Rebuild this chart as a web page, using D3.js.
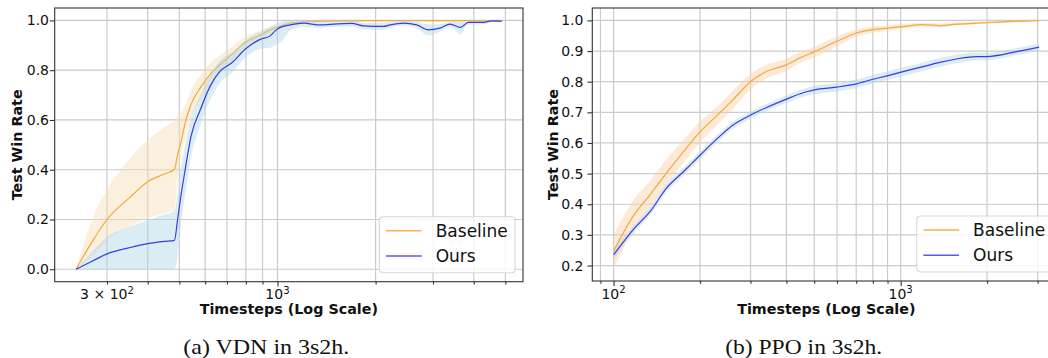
<!DOCTYPE html>
<html><head><meta charset="utf-8">
<script src="https://cdn.jsdelivr.net/npm/d3@7"></script>
<style>body{margin:0;background:#fff}svg{display:block}</style>
</head><body><svg id="c" width="1048" height="358"></svg>
<script>
// ---------- data: (a) VDN in 3s2h ----------
const vdnSteps    = [241, 270, 300, 350, 400, 450, 483, 494, 505, 521, 543, 580, 622, 667, 725, 796, 885, 950, 984, 1019, 1094, 1201, 1352, 1521, 1690, 1834, 2114, 2215, 2433, 2673, 2904, 3149, 3385, 3639, 3851, 4283, 4540, 4873];
const vdnBaseMean = [0, 0.11, 0.2, 0.285, 0.352, 0.383, 0.402, 0.46, 0.507, 0.588, 0.662, 0.729, 0.783, 0.823, 0.864, 0.911, 0.941, 0.962, 0.97, 0.976, 0.989, 0.994, 0.997, 0.998, 0.998, 0.999, 0.999, 0.999, 0.999, 0.999, 0.999, 0.999, 0.999, 0.999, 0.999, 0.999, 0.998, 0.997];
const vdnBaseLo   = [0, 0.05, 0.116, 0.17, 0.204, 0.225, 0.237, 0.36, 0.45, 0.52, 0.61, 0.68, 0.74, 0.79, 0.835, 0.885, 0.925, 0.95, 0.96, 0.968, 0.982, 0.99, 0.994, 0.995, 0.995, 0.996, 0.996, 0.996, 0.996, 0.996, 0.996, 0.996, 0.996, 0.996, 0.996, 0.996, 0.993, 0.988];
const vdnBaseHi   = [0, 0.2, 0.32, 0.44, 0.52, 0.57, 0.6, 0.62, 0.63, 0.66, 0.72, 0.78, 0.83, 0.86, 0.895, 0.935, 0.96, 0.975, 0.98, 0.985, 0.995, 0.998, 1, 1, 1, 1, 1, 1, 1, 1, 1, 1, 1, 1, 1, 1, 1, 1];
const vdnOursMean = [0, 0.032, 0.062, 0.086, 0.103, 0.112, 0.116, 0.2, 0.29, 0.4, 0.534, 0.641, 0.736, 0.796, 0.83, 0.884, 0.924, 0.938, 0.958, 0.972, 0.982, 0.989, 0.982, 0.986, 0.988, 0.978, 0.976, 0.982, 0.989, 0.982, 0.962, 0.969, 0.985, 0.972, 0.992, 0.992, 0.998, 0.997];
const vdnOursLo   = [0, 0, 0, 0, 0, 0, 0, 0.05, 0.17, 0.3, 0.45, 0.58, 0.68, 0.75, 0.79, 0.85, 0.885, 0.89, 0.9, 0.91, 0.96, 0.975, 0.97, 0.975, 0.975, 0.965, 0.962, 0.97, 0.98, 0.97, 0.94, 0.955, 0.975, 0.945, 0.985, 0.985, 0.995, 0.994];
const vdnOursHi   = [0, 0.07, 0.13, 0.17, 0.197, 0.22, 0.234, 0.3, 0.4, 0.5, 0.61, 0.7, 0.78, 0.84, 0.87, 0.92, 0.955, 0.975, 0.985, 0.995, 1, 1, 0.995, 0.997, 1, 0.99, 0.99, 0.995, 0.998, 0.995, 0.985, 0.985, 0.995, 0.995, 0.998, 0.999, 1, 1];
const vdnYTicks = [0, 0.2, 0.4, 0.6, 0.8, 1.0];
const vdnXTickValues = [300, 1000];
const vdnXTickLabels = ["3 × 10^2", "10^3"];

// ---------- data: (b) PPO in 3s2h ----------
const ppoSteps    = [100, 116.5, 135, 152.3, 175, 200, 230, 260, 300, 340, 400, 444, 501, 597, 701, 801, 904, 1011, 1196, 1368, 1563, 1837, 1991, 2533, 3036];
const ppoBaseMean = [0.247, 0.358, 0.435, 0.5, 0.571, 0.636, 0.691, 0.74, 0.8, 0.833, 0.855, 0.877, 0.898, 0.931, 0.959, 0.97, 0.975, 0.98, 0.986, 0.983, 0.988, 0.991, 0.993, 0.997, 0.999];
const ppoBaseLo   = [0.19, 0.31, 0.39, 0.46, 0.535, 0.6, 0.66, 0.71, 0.775, 0.81, 0.835, 0.86, 0.88, 0.915, 0.947, 0.96, 0.967, 0.972, 0.98, 0.977, 0.983, 0.987, 0.99, 0.995, 0.997];
const ppoBaseHi   = [0.3, 0.41, 0.48, 0.545, 0.61, 0.67, 0.72, 0.77, 0.825, 0.855, 0.875, 0.895, 0.915, 0.947, 0.97, 0.98, 0.983, 0.988, 0.992, 0.989, 0.993, 0.995, 0.996, 0.999, 1.0];
const ppoOursMean = [0.235, 0.315, 0.38, 0.451, 0.506, 0.56, 0.615, 0.658, 0.691, 0.715, 0.743, 0.76, 0.773, 0.782, 0.793, 0.808, 0.82, 0.832, 0.849, 0.863, 0.874, 0.882, 0.882, 0.898, 0.913];
const ppoOursLo   = [0.22, 0.302, 0.368, 0.439, 0.494, 0.548, 0.603, 0.646, 0.68, 0.703, 0.731, 0.747, 0.759, 0.768, 0.779, 0.794, 0.806, 0.818, 0.835, 0.849, 0.86, 0.869, 0.87, 0.886, 0.901];
const ppoOursHi   = [0.25, 0.328, 0.392, 0.463, 0.518, 0.572, 0.627, 0.67, 0.702, 0.727, 0.755, 0.773, 0.787, 0.796, 0.807, 0.822, 0.834, 0.846, 0.863, 0.877, 0.888, 0.895, 0.894, 0.91, 0.925];
const ppoYTicks = [0.2, 0.3, 0.4, 0.5, 0.6, 0.7, 0.8, 0.9, 1.0];
const ppoXTickValues = [100, 1000];
const ppoXTickLabels = ["10^2", "10^3"];

const seriesNames = ["Baseline", "Ours"];
const captions = ["(a) VDN in 3s2h.", "(b) PPO in 3s2h."];

// ---------- drawing ----------
const FONT = "DejaVu Sans";
const svg = d3.select("#c");
svg.append("rect").attr("width", 1048).attr("height", 358).attr("fill", "#fff");
const defs = svg.append("defs");

function setMath(textSel, label) {
  textSel.text(null);
  const [base, sup] = label.split("^");
  textSel.append("tspan").attr("xml:space", "preserve").text(base);
  if (sup !== undefined) {
    textSel.append("tspan").attr("font-size", "0.72em").attr("dy", "-0.5em").text(sup);
  }
}

function panel(o) {
  const g = svg.append("g");
  const allY = [].concat(o.baseLo, o.baseHi, o.oursLo, o.oursHi, o.baseMean, o.oursMean);
  const yMin = d3.min(allY), yMax = d3.max(allY), yPad = (yMax - yMin) * 0.05;
  const lmin = Math.log10(d3.min(o.steps)), lmax = Math.log10(d3.max(o.steps));
  const lpad = (lmax - lmin) * 0.05;
  const x = d3.scaleLog().domain([10 ** (lmin - lpad), 10 ** (lmax + lpad)]).range([o.left, o.right]);
  const y = d3.scaleLinear().domain([yMin - yPad, yMax + yPad]).range([o.bottom, o.top]);

  const cid = "clip" + o.name;
  defs.append("clipPath").attr("id", cid).append("rect")
    .attr("x", o.left).attr("y", o.top).attr("width", o.right - o.left).attr("height", o.bottom - o.top);

  // grid
  const gridX = x.ticks();
  const grid = g.append("g").attr("stroke", "#cbcbcb").attr("stroke-width", 1.2);
  grid.selectAll("line.gx").data(gridX).join("line").attr("class", "gx")
    .attr("x1", d => x(d)).attr("x2", d => x(d)).attr("y1", o.top).attr("y2", o.bottom);
  grid.selectAll("line.gy").data(o.yTicks).join("line").attr("class", "gy")
    .attr("x1", o.left).attr("x2", o.right).attr("y1", d => y(d)).attr("y2", d => y(d));

  // data
  const dg = g.append("g").attr("clip-path", `url(#${cid})`);
  const crv = d3.curveMonotoneX;
  const area = (lo, hi) => d3.area().curve(crv).x((d, i) => x(o.steps[i])).y0((d, i) => y(lo[i])).y1((d, i) => y(hi[i]))(o.steps);
  const line = (m) => d3.line().curve(crv).x((d, i) => x(o.steps[i])).y((d, i) => y(m[i]))(o.steps);
  dg.append("path").attr("d", area(o.baseLo, o.baseHi)).attr("fill", o.baseBand).attr("fill-opacity", o.baseBandOp);
  dg.append("path").attr("d", line(o.baseMean)).attr("fill", "none").attr("stroke", "#f2a93b").attr("stroke-width", 1.2);
  dg.append("path").attr("d", area(o.oursLo, o.oursHi)).attr("fill", "#add8e6").attr("fill-opacity", 0.45);
  dg.append("path").attr("d", line(o.oursMean)).attr("fill", "none").attr("stroke", "#3b3bdf").attr("stroke-width", 1.2);

  // axes ticks
  const majors = gridX.filter(d => Math.abs(Math.log10(d) - Math.round(Math.log10(d))) < 1e-9);
  const minors = gridX.filter(d => !majors.includes(d));
  const xMinor = g.append("g").attr("transform", `translate(0,${o.bottom})`)
    .call(d3.axisBottom(x).tickValues(minors).tickSize(2.8).tickFormat(""));
  const xMajor = g.append("g").attr("transform", `translate(0,${o.bottom})`)
    .call(d3.axisBottom(x).tickValues(majors).tickSize(4.9).tickFormat(""));
  [xMinor, xMajor].forEach(a => { a.select(".domain").remove(); a.selectAll("line").attr("stroke", "#333").attr("stroke-width", 1.1); });

  const xl = g.append("g");
  o.xTickValues.forEach((v, i) => {
    const t = xl.append("text").attr("x", x(v)).attr("y", o.bottom + 17.5)
      .attr("text-anchor", "middle").attr("font-family", FONT).attr("font-size", 14).attr("fill", "#111");
    setMath(t, o.xTickLabels[i]);
  });

  const yAx = g.append("g").attr("transform", `translate(${o.left},0)`)
    .call(d3.axisLeft(y).tickValues(o.yTicks).tickSize(4.9).tickPadding(o.yTickPad).tickFormat(d3.format(".1f")));
  yAx.select(".domain").remove();
  yAx.selectAll("line").attr("stroke", "#333").attr("stroke-width", 1.1);
  yAx.selectAll("text").attr("font-family", FONT).attr("font-size", 14).attr("fill", "#111");

  // spines
  g.append("rect").attr("x", o.left).attr("y", o.top).attr("width", o.right - o.left).attr("height", o.bottom - o.top)
    .attr("fill", "none").attr("stroke", "#333").attr("stroke-width", 1.1);

  // labels
  g.append("text").attr("x", (o.left + o.right) / 2).attr("y", o.bottom + 32.5).attr("text-anchor", "middle")
    .attr("font-family", FONT).attr("font-weight", "bold").attr("font-size", 14.3).attr("fill", "#111")
    .text("Timesteps (Log Scale)");
  g.append("text").attr("transform", `translate(${o.ylabelX},${(o.top + o.bottom) / 2}) rotate(-90)`)
    .attr("text-anchor", "middle").attr("font-family", FONT).attr("font-weight", "bold").attr("font-size", 14.3)
    .attr("fill", "#111").text("Test Win Rate");

  // legend
  const lw = 135.7, lh = 56;
  const lx0 = o.right - 8 - lw, ly0 = o.bottom - 9 - lh;
  const lg = g.append("g").attr("transform", `translate(${lx0},${ly0})`);
  lg.append("rect").attr("width", lw).attr("height", lh).attr("rx", 3.5)
    .attr("fill", "#fff").attr("fill-opacity", 0.8).attr("stroke", "#d6d6d6").attr("stroke-width", 1.1);
  const lcolors = ["#f2b45a", "#5a5ae6"];
  seriesNames.forEach((nm, i) => {
    const yy = 14 + i * 25.3;
    lg.append("line").attr("x1", 6.7).attr("x2", 42.4).attr("y1", yy).attr("y2", yy)
      .attr("stroke", lcolors[i]).attr("stroke-width", 1.4);
    lg.append("text").attr("x", 56.4).attr("y", yy + 6).attr("font-family", FONT).attr("font-size", 17)
      .attr("fill", "#111").text(nm);
  });

  // caption
  svg.append("text").attr("x", o.capX).attr("y", 354).attr("text-anchor", "middle")
    .attr("font-family", "Liberation Serif, Times New Roman, serif").attr("font-size", 21)
    .attr("textLength", o.capLen).attr("lengthAdjust", "spacingAndGlyphs")
    .attr("fill", "#111").text(o.caption);
}

panel({
  name: "vdn", left: 54.7, right: 523, top: 8, bottom: 281.7,
  steps: vdnSteps, baseMean: vdnBaseMean, baseLo: vdnBaseLo, baseHi: vdnBaseHi,
  oursMean: vdnOursMean, oursLo: vdnOursLo, oursHi: vdnOursHi,
  yTicks: vdnYTicks, xTickValues: vdnXTickValues, xTickLabels: vdnXTickLabels,
  baseBand: "#f5deb3", baseBandOp: 0.45, yTickPad: 0.8, ylabelX: 21.5,
  caption: captions[0], capX: 266.3, capLen: 166
});
panel({
  name: "ppo", left: 592.3, right: 1060.4, top: 8, bottom: 281,
  steps: ppoSteps, baseMean: ppoBaseMean, baseLo: ppoBaseLo, baseHi: ppoBaseHi,
  oursMean: ppoOursMean, oursLo: ppoOursLo, oursHi: ppoOursHi,
  yTicks: ppoYTicks, xTickValues: ppoXTickValues, xTickLabels: ppoXTickLabels,
  baseBand: "#fbcfa8", baseBandOp: 0.45, yTickPad: 4, ylabelX: 558,
  caption: captions[1], capX: 803.7, capLen: 157
});
</script></body></html>
